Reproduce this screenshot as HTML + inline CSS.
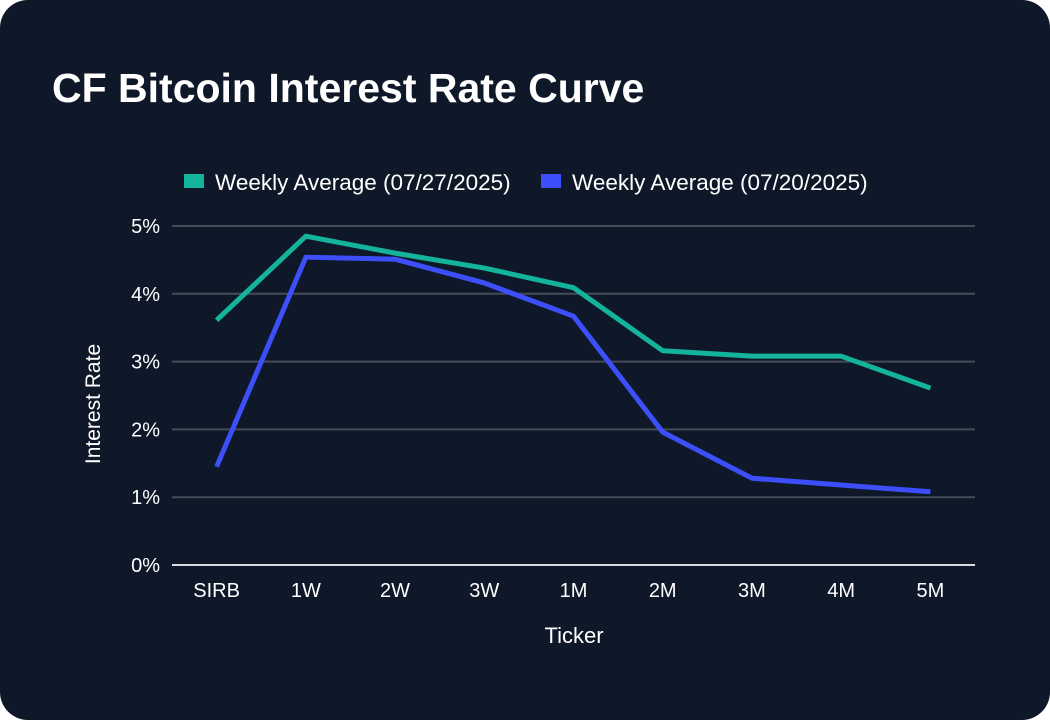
<!DOCTYPE html>
<html><head><meta charset="utf-8"><style>
html,body{margin:0;padding:0;background:#fff;}
body{width:1050px;height:720px;overflow:hidden;font-family:"Liberation Sans",sans-serif;}
#card{position:absolute;left:0;top:0;width:1050px;height:720px;background:#0f1828;border-radius:28px;}
#title{position:absolute;left:52px;top:64px;color:#fff;font-size:41px;font-weight:bold;line-height:48px;}
</style></head><body>
<div id="card">
<div id="title">CF Bitcoin Interest Rate Curve</div>
<svg id="chart" width="1050" height="720" style="position:absolute;left:0;top:0"></svg>
</div>
<script>
const categories=["SIRB","1W","2W","3W","1M","2M","3M","4M","5M"];
const seriesA=[3.61,4.85,4.60,4.38,4.09,3.16,3.08,3.08,2.61];
const seriesB=[1.45,4.54,4.51,4.16,3.67,1.96,1.28,1.18,1.08];
const yTicks=[0,1,2,3,4,5];
const seriesNames=["Weekly Average (07/27/2025)","Weekly Average (07/20/2025)"];
const colors=["#13b39c","#3d4ffa"];
const NS="http://www.w3.org/2000/svg";
const svg=document.getElementById('chart');
const x0=172,x1=975,yBase=565,yTop=226,yMax=5;
const band=(x1-x0)/categories.length;
const xs=i=>x0+band*(i+0.5);
const ys=v=>yBase-(v/yMax)*(yBase-yTop);
function mk(t,a){const e=document.createElementNS(NS,t);for(const k in a)e.setAttribute(k,a[k]);svg.appendChild(e);return e;}
yTicks.forEach(v=>{
  const l=mk('line',{x1:x0,x2:x1,y1:ys(v),y2:ys(v),stroke:v===0?'#d8dbe0':'#444c58','stroke-width':2});
  
  
  const t=mk('text',{x:160,y:ys(v)+7,'text-anchor':'end',fill:'#fff','font-size':20});
  t.textContent=v+'%';
  
  
});
categories.forEach((c,i)=>{
  const t=mk('text',{x:xs(i),y:597,'text-anchor':'middle',fill:'#fff','font-size':20});
  t.textContent=c;
  
  
});
[seriesA,seriesB].forEach((s,k)=>{
  const p=mk('polyline',{points:s.map((v,i)=>xs(i)+','+ys(v)).join(' '),fill:'none',stroke:colors[k],'stroke-width':5,'stroke-linejoin':'round'});
  
  
});
const lx=[184,541];
seriesNames.forEach((n,k)=>{
  const r=mk('rect',{x:lx[k],y:174,width:20,height:14,fill:colors[k]});
  
  
  const t=mk('text',{x:lx[k]+31,y:190,fill:'#fff','font-size':22.5});
  t.textContent=n;
  
  
});
const xt=mk('text',{x:574,y:643,'text-anchor':'middle',fill:'#fff','font-size':22});
xt.textContent='Ticker';


const yt=mk('text',{x:0,y:0,'text-anchor':'middle',fill:'#fff','font-size':21,transform:'translate(100,404) rotate(-90)'});
yt.textContent='Interest Rate';


</script>
</body></html>
